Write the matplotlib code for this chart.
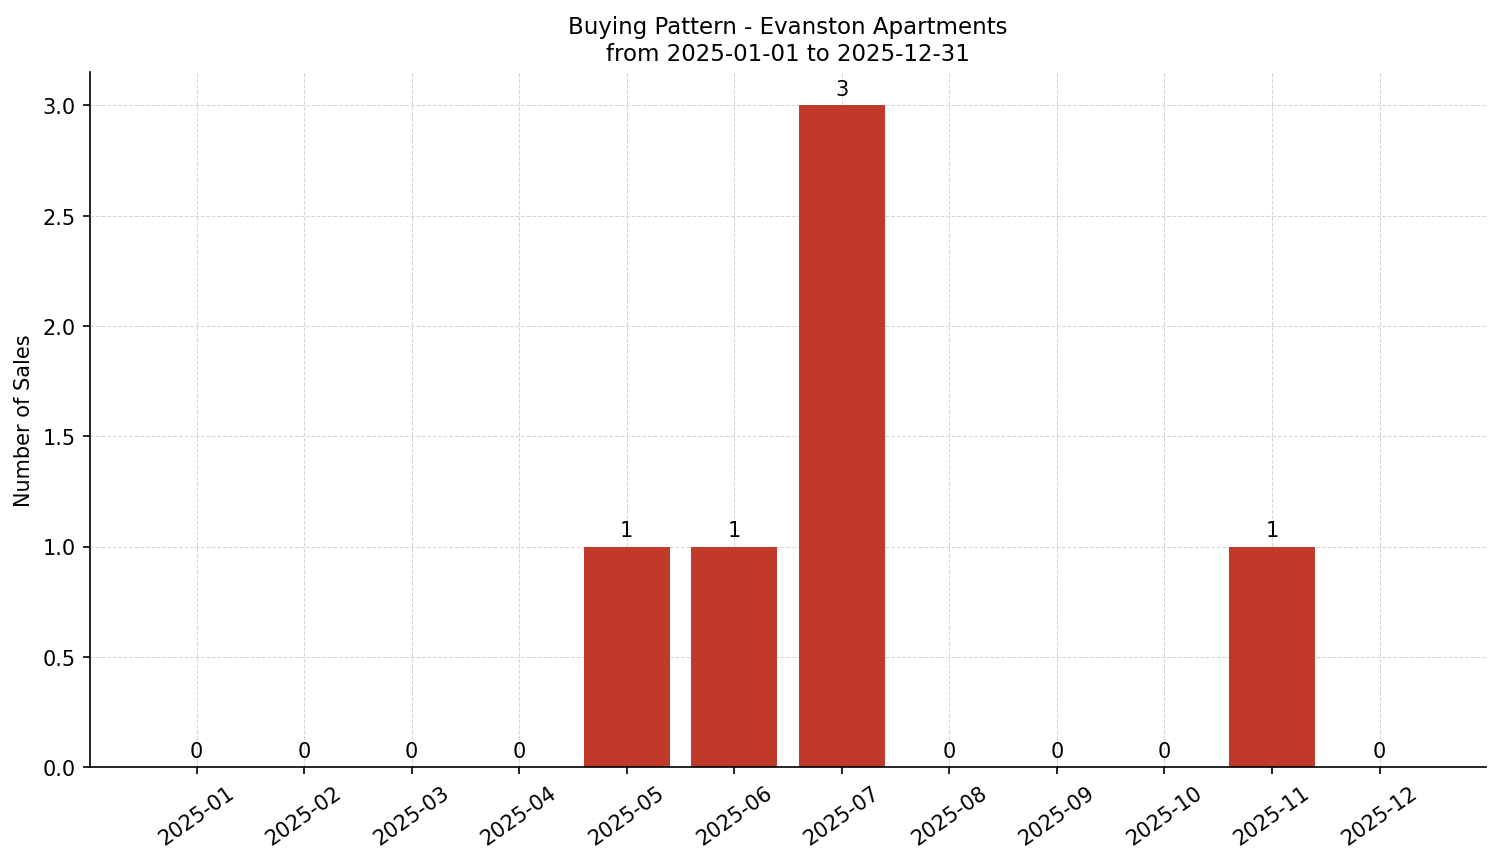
import matplotlib
matplotlib.use("Agg")
import matplotlib.pyplot as plt

months = ["2025-01","2025-02","2025-03","2025-04","2025-05","2025-06",
          "2025-07","2025-08","2025-09","2025-10","2025-11","2025-12"]
sales = [0,0,0,0,1,1,3,0,0,0,1,0]

fig, ax = plt.subplots(figsize=(10.007, 5.753), dpi=150)
x = range(len(months))
bars = ax.bar(x, sales, width=0.8, color="#c0392b", zorder=2)
ax.bar_label(bars, labels=[str(v) for v in sales], padding=3, fontsize=10)
ax.set_xticks(list(x))
ax.set_xticklabels(months, rotation=35)
ax.set_ylabel("Number of Sales")
ax.set_title("Buying Pattern - Evanston Apartments\nfrom 2025-01-01 to 2025-12-31", fontsize=11)
ax.set_ylim(0, 3.15)
ax.grid(True, linestyle="--", linewidth=0.5, color="#cccccc", alpha=0.8, zorder=0)
ax.spines["top"].set_visible(False)
ax.spines["right"].set_visible(False)
fig.subplots_adjust(left=0.06, right=0.99, top=0.915, bottom=0.11)
fig.savefig("out.png", dpi=150)
